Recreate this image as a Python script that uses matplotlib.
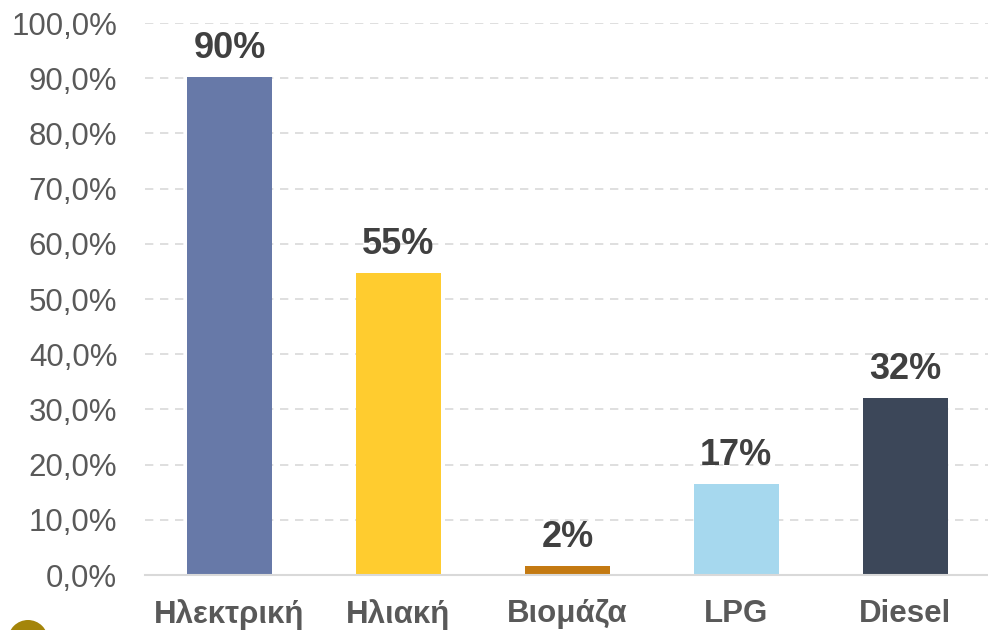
import matplotlib.pyplot as plt
from matplotlib.patches import Circle

categories = ["Ηλεκτρική", "Ηλιακή", "Βιομάζα", "LPG", "Diesel"]
values = [90.2, 54.7, 1.6, 16.5, 32.1]
value_labels = ["90%", "55%", "2%", "17%", "32%"]
colors = ["#6779A8", "#FFCC2F", "#C47A12", "#A6D8EE", "#3C4759"]
y_ticks = [0, 10, 20, 30, 40, 50, 60, 70, 80, 90, 100]

plt.rcParams["font.family"] = ["Liberation Sans", "DejaVu Sans"]

fig = plt.figure(figsize=(9.88, 6.3), dpi=100)
ax = fig.add_axes([0.1468, 0.0873, 0.855, 0.876])

x = range(len(categories))
ax.bar(x, values, width=0.5, color=colors, zorder=2)

for xi, v, lab in zip(x, values, value_labels):
    ax.annotate(lab, (xi, v), xytext=(0, 8), textcoords="offset points",
                ha="center", va="bottom", fontsize=26, fontweight="bold",
                color="#404040")

ax.set_xlim(-0.5, 4.5)
ax.set_ylim(0, 100)
ax.set_yticks(y_ticks)
ax.set_yticklabels([f"{t:.1f}%".replace(".", ",") for t in y_ticks])
ax.set_xticks(list(x))
ax.set_xticklabels(categories, fontweight="bold")

ax.tick_params(axis="y", length=0, labelsize=22.5, labelcolor="#595959", pad=20)
ax.tick_params(axis="x", length=0, labelsize=22.5, labelcolor="#595959", pad=17)

ax.yaxis.grid(True, color="#d9d9d9", linestyle=(0, (5, 4)), linewidth=1.2, zorder=0)
ax.set_axisbelow(True)
for side in ["top", "right", "left"]:
    ax.spines[side].set_visible(False)
ax.spines["bottom"].set_color("#d9d9d9")
ax.spines["bottom"].set_linewidth(1.5)

# partial logo circle in the lower-left corner
fig.patches.append(Circle((0.28, -0.10), 0.20, transform=fig.dpi_scale_trans,
                          facecolor="#A4850A", edgecolor="none"))

fig.savefig("out.png", dpi=100)
